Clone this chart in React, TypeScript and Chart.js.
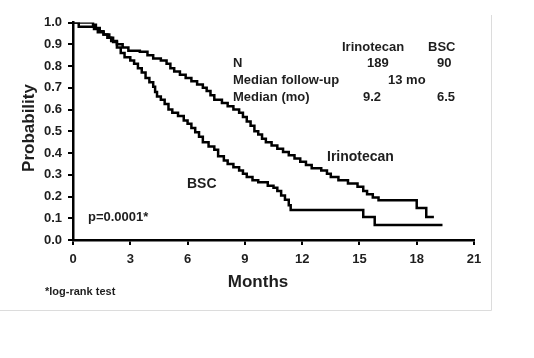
import React, { useEffect, useRef } from "react";
import { Chart, registerables } from "chart.js";

Chart.register(...registerables);

// Kaplan-Meier step data (months, survival probability)
const irinoTimes = [0, 1.05, 1.2, 1.4, 1.6, 1.8, 2.0, 2.3, 2.6, 2.9, 3.5, 3.9, 4.2, 4.6, 4.9, 5.1, 5.3, 5.6, 5.9, 6.2, 6.5, 6.8, 7.0, 7.2, 7.4, 7.8, 8.1, 8.4, 8.7, 8.9, 9.1, 9.3, 9.5, 9.7, 9.9, 10.1, 10.4, 10.7, 11.0, 11.3, 11.6, 11.9, 12.2, 12.5, 13.0, 13.3, 13.5, 13.9, 14.4, 14.9, 15.2, 15.4, 15.7, 16.0, 18.0, 18.5, 18.9];
const irinoSurv = [1.0, 0.99, 0.975, 0.96, 0.945, 0.93, 0.915, 0.9, 0.885, 0.87, 0.865, 0.85, 0.835, 0.825, 0.81, 0.79, 0.775, 0.76, 0.745, 0.73, 0.715, 0.7, 0.685, 0.665, 0.645, 0.63, 0.615, 0.6, 0.585, 0.565, 0.545, 0.525, 0.5, 0.485, 0.465, 0.45, 0.435, 0.42, 0.405, 0.39, 0.375, 0.36, 0.345, 0.33, 0.32, 0.305, 0.29, 0.275, 0.26, 0.245, 0.225, 0.21, 0.195, 0.183, 0.147, 0.106, 0.106];

const bscTimes = [0, 0.3, 1.1, 1.3, 1.6, 1.9, 2.1, 2.3, 2.5, 2.7, 3.0, 3.2, 3.4, 3.6, 3.8, 4.0, 4.2, 4.3, 4.4, 4.6, 4.8, 5.0, 5.2, 5.5, 5.8, 6.0, 6.2, 6.4, 6.6, 6.8, 7.1, 7.4, 7.6, 7.9, 8.1, 8.4, 8.7, 8.9, 9.1, 9.4, 9.7, 10.2, 10.5, 10.7, 10.9, 11.1, 11.3, 11.4, 15.2, 15.8, 19.35];
const bscSurv = [1.0, 0.98, 0.97, 0.955, 0.945, 0.93, 0.91, 0.885, 0.86, 0.84, 0.825, 0.81, 0.79, 0.77, 0.745, 0.725, 0.705, 0.68, 0.66, 0.645, 0.625, 0.6, 0.585, 0.57, 0.55, 0.535, 0.515, 0.495, 0.475, 0.45, 0.43, 0.415, 0.385, 0.365, 0.35, 0.335, 0.32, 0.305, 0.29, 0.275, 0.265, 0.25, 0.24, 0.225, 0.205, 0.185, 0.16, 0.138, 0.106, 0.069, 0.069];

const xTicks = [0, 3, 6, 9, 12, 15, 18, 21];
const yTicks = [0, 0.1, 0.2, 0.3, 0.4, 0.5, 0.6, 0.7, 0.8, 0.9, 1.0];

const tableHeader = ["Irinotecan", "BSC"];
const tableRows = ["N", "Median follow-up", "Median (mo)"];
const tableN = ["189", "90"];
const tableFollowUp = "13 mo";
const tableMedian = ["9.2", "6.5"];

const FONT = '"Liberation Sans", Arial, sans-serif';
const TEXT = "#1e1e1e";

const textPlugin = {
  id: "textPlugin",
  beforeDraw(chart: any) {
    const ctx = chart.ctx;
    ctx.save();
    ctx.fillStyle = "#fff";
    ctx.fillRect(0, 0, chart.width, chart.height);
    ctx.strokeStyle = "#dcdcdc";
    ctx.lineWidth = 1;
    ctx.beginPath();
    ctx.moveTo(491.5, 15);
    ctx.lineTo(491.5, 310.5);
    ctx.moveTo(0, 310.5);
    ctx.lineTo(491.5, 310.5);
    ctx.stroke();
    ctx.restore();
  },
  afterDraw(chart: any) {
    const ctx = chart.ctx;
    ctx.save();
    ctx.fillStyle = TEXT;
    ctx.textBaseline = "middle";
    ctx.textAlign = "left";
    ctx.font = `bold 13px ${FONT}`;
    ctx.fillText(tableRows[0], 233, 63);
    ctx.fillText(tableRows[1], 233, 80);
    ctx.fillText(tableRows[2], 233, 97);
    ctx.fillText(tableHeader[0], 342, 47);
    ctx.fillText(tableHeader[1], 428, 47);
    ctx.fillText(tableN[0], 367, 63);
    ctx.fillText(tableN[1], 437, 63);
    ctx.fillText(tableFollowUp, 388, 80);
    ctx.fillText(tableMedian[0], 363, 97);
    ctx.fillText(tableMedian[1], 437, 97);
    ctx.fillText("p=0.0001*", 88, 217);
    ctx.font = `bold 14px ${FONT}`;
    ctx.fillText("Irinotecan", 327, 157);
    ctx.fillText("BSC", 187, 184);
    ctx.font = `bold 11px ${FONT}`;
    ctx.fillText("*log-rank test", 45, 292);
    ctx.font = `bold 17px ${FONT}`;
    ctx.textAlign = "center";
    ctx.fillText("Months", 258, 282);
    ctx.translate(29, 128);
    ctx.rotate(-Math.PI / 2);
    ctx.fillText("Probability", 0, 0);
    ctx.restore();
  },
};

export default function App() {
  const ref = useRef<HTMLCanvasElement | null>(null);
  useEffect(() => {
    if (!ref.current) return;
    const chart = new Chart(ref.current, {
      type: "line",
      data: {
        datasets: [
          {
            label: "Irinotecan",
            data: irinoTimes.map((t, i) => ({ x: t, y: irinoSurv[i] })),
            borderColor: "#000",
            borderWidth: 2.5,
            pointRadius: 0,
            stepped: "before",
            fill: false,
          },
          {
            label: "BSC",
            data: bscTimes.map((t, i) => ({ x: t, y: bscSurv[i] })),
            borderColor: "#000",
            borderWidth: 2.5,
            pointRadius: 0,
            stepped: "before",
            fill: false,
          },
        ],
      },
      options: {
        animation: false,
        responsive: false,
        layout: { padding: { top: 22.5, right: 60, left: 0, bottom: 0 } },
        plugins: { legend: { display: false }, tooltip: { enabled: false } },
        scales: {
          x: {
            type: "linear",
            min: 0,
            max: 21,
            afterFit: (s: any) => {
              s.height = 118;
            },
            afterBuildTicks: (s: any) => {
              s.ticks = xTicks.map((v) => ({ value: v }));
            },
            ticks: {
              font: { family: FONT, size: 13, weight: "bold" },
              color: TEXT,
              padding: 7,
              maxRotation: 0,
              callback: (v: any) => String(v),
            },
            grid: { drawOnChartArea: false, drawTicks: true, tickLength: 5, color: "#000", lineWidth: 2 },
            border: { display: true, color: "#000", width: 2.5 },
          },
          y: {
            min: 0,
            max: 1,
            afterFit: (s: any) => {
              s.width = 73;
            },
            afterBuildTicks: (s: any) => {
              s.ticks = yTicks.map((v) => ({ value: v }));
            },
            ticks: {
              font: { family: FONT, size: 13, weight: "bold" },
              color: TEXT,
              padding: 6,
              callback: (v: any) => Number(v).toFixed(1),
            },
            grid: { drawOnChartArea: false, drawTicks: true, tickLength: 5, color: "#000", lineWidth: 2 },
            border: { display: true, color: "#000", width: 2.5 },
          },
        },
      },
      plugins: [textPlugin],
    } as any);
    return () => chart.destroy();
  }, []);
  return (
    <div style={{ position: "fixed", left: 0, top: 0, width: 534, height: 358, background: "#fff" }}>
      <canvas ref={ref} width={534} height={358} style={{ width: 534, height: 358 }} />
    </div>
  );
}
